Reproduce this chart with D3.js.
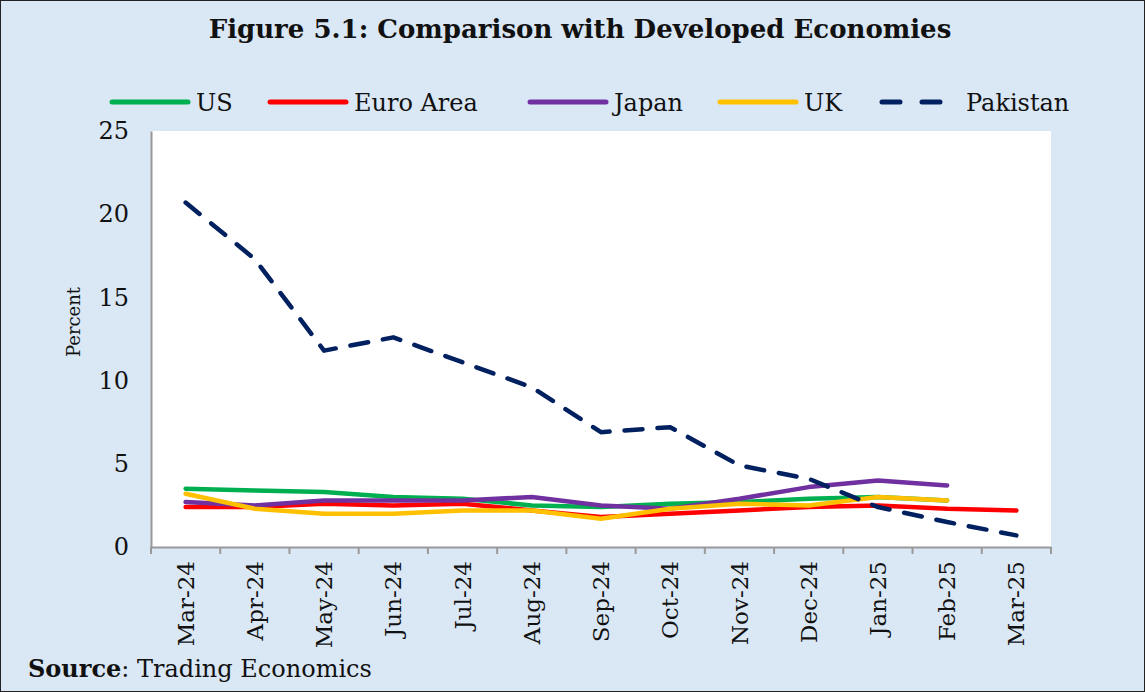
<!DOCTYPE html>
<html>
<head>
<meta charset="utf-8">
<script src="https://cdn.jsdelivr.net/npm/d3@7"></script>
<style>
body{margin:0;background:#fff}
svg{display:block}
</style>
</head>
<body>
<script>
let months = ["Mar-24","Apr-24","May-24","Jun-24","Jul-24","Aug-24","Sep-24","Oct-24","Nov-24","Dec-24","Jan-25","Feb-25","Mar-25"]
let us = [3.5,3.4,3.3,3.0,2.9,2.5,2.4,2.6,2.7,2.9,3.0,2.8]
let euro = [2.4,2.4,2.6,2.5,2.6,2.2,1.8,2.0,2.2,2.4,2.5,2.3,2.2]
let japan = [2.7,2.5,2.8,2.8,2.8,3.0,2.5,2.3,2.9,3.6,4.0,3.7]
let uk = [3.2,2.3,2.0,2.0,2.2,2.2,1.7,2.3,2.6,2.5,3.0,2.8]
let pakistan = [20.7,17.3,11.8,12.6,11.1,9.6,6.9,7.2,4.9,4.1,2.4,1.5,0.7]
let yTicks = [0,5,10,15,20,25]

let series = [
    {name:"US", values:us, color:"#00B050", dash:null},
    {name:"Euro Area", values:euro, color:"#FF0000", dash:null},
    {name:"Japan", values:japan, color:"#7030A0", dash:null},
    {name:"UK", values:uk, color:"#FFC000", dash:null},
    {name:"Pakistan", values:pakistan, color:"#002060", dash:"18,15"}
]

let w = 1145, h = 692
let pLeft = 151, pRight = 1051, pTop = 131, pBottom = 547
let serif = "'DejaVu Serif', serif"

let svg = d3.select("body").append("svg").attr("width", w).attr("height", h)
svg.append("rect").attr("x",0.5).attr("y",0.5).attr("width",w-1).attr("height",h-1)
    .attr("fill","#DAE7F5").attr("stroke","#222")

let xScale = d3.scaleBand().domain(months).range([pLeft, pRight])
let yScale = d3.scaleLinear().domain([0,25]).range([pBottom, pTop])

svg.append("rect").attr("x",pLeft).attr("y",pTop).attr("width",pRight-pLeft).attr("height",pBottom-pTop).attr("fill","#fff")

// title
svg.append("text").attr("x",580).attr("y",38).attr("text-anchor","middle")
    .attr("font-family",serif).attr("font-weight","bold").attr("font-size",26)
    .attr("fill","#111").text("Figure 5.1: Comparison with Developed Economies")

// axes
let yAxis = d3.axisLeft(yScale).tickValues(yTicks).tickSize(0).tickPadding(22)
let gy = svg.append("g").attr("transform",`translate(${pLeft},0)`).call(yAxis)
gy.select(".domain").attr("stroke","#999").attr("stroke-width",2)
gy.selectAll("text").attr("font-family",serif).attr("font-size",24).attr("fill","#111")

let xAxis = d3.axisBottom(xScale).tickSize(0)
let gx = svg.append("g").attr("transform",`translate(0,${pBottom})`).call(xAxis)
gx.select(".domain").attr("stroke","#999").attr("stroke-width",2)
gx.selectAll("text").attr("font-family",serif).attr("font-size",23).attr("fill","#111")
    .attr("text-anchor","end").attr("dy","0.35em")
    .attr("transform","translate(0,14) rotate(-90)").attr("x",0).attr("y",0)
// tick marks on band edges
let edges = months.map(m=>xScale(m)).concat([xScale.range()[1]])
svg.append("g").selectAll("line").data(edges).enter().append("line")
    .attr("x1",d=>d).attr("x2",d=>d).attr("y1",pBottom).attr("y2",pBottom+7)
    .attr("stroke","#999").attr("stroke-width",2)

svg.append("text").attr("transform","translate(80,322) rotate(-90)").attr("text-anchor","middle")
    .attr("font-family",serif).attr("font-size",18).attr("fill","#111").text("Percent")

// lines
let line = d3.line().x((d,i)=>xScale(months[i])+xScale.bandwidth()/2).y(d=>yScale(d))
svg.append("g").selectAll("path").data(series).enter().append("path")
    .attr("d",d=>line(d.values)).attr("fill","none")
    .attr("stroke",d=>d.color).attr("stroke-width",4.5)
    .attr("stroke-linecap","round").attr("stroke-linejoin","round")
    .attr("stroke-dasharray",d=>d.dash)

// legend
let legendX = [110, 268, 528, 718, 880]
let lg = svg.append("g").selectAll("g").data(series).enter().append("g")
    .attr("transform",(d,i)=>`translate(${legendX[i]},102)`)
lg.append("line").attr("x1",2).attr("x2",78).attr("y1",0).attr("y2",0)
    .attr("stroke",d=>d.color).attr("stroke-width",5).attr("stroke-linecap","round")
    .attr("stroke-dasharray",d=>d.dash?"18,22":null)
lg.append("text").attr("x",86).attr("y",9).attr("font-family",serif).attr("font-size",24)
    .attr("fill","#111").text(d=>d.name)

// source
let src = svg.append("text").attr("x",28).attr("y",677).attr("font-family",serif).attr("font-size",24).attr("fill","#111")
src.append("tspan").attr("font-weight","bold").text("Source")
src.append("tspan").text(":  Trading Economics")
</script>
</body>
</html>
